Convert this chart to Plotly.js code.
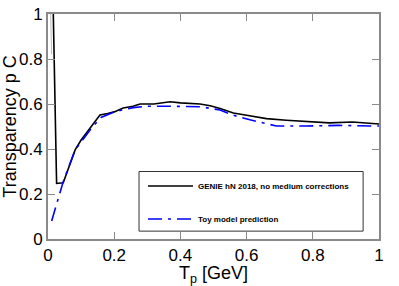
<!DOCTYPE html>
<html>
<head>
<meta charset="utf-8">
<script src="https://cdn.plot.ly/plotly-3.0.1.min.js"></script>
<style>html,body{margin:0;padding:0;background:#fff;}#chart{width:399px;height:286px;}</style>
</head>
<body>
<div id="chart"></div>
<script>
// GENIE hN 2018, no medium corrections
const genieX = [0.016, 0.026, 0.046, 0.082, 0.1, 0.13, 0.157, 0.18, 0.2, 0.227, 0.257, 0.278, 0.32, 0.369, 0.4, 0.459, 0.49, 0.52, 0.56, 0.6, 0.66, 0.72, 0.79, 0.85, 0.92, 1.0];
const genieY = [1.0, 0.247, 0.25, 0.396, 0.44, 0.5, 0.551, 0.558, 0.565, 0.582, 0.59, 0.6, 0.6, 0.61, 0.605, 0.6, 0.592, 0.58, 0.56, 0.55, 0.535, 0.528, 0.52, 0.516, 0.52, 0.511];
// Toy model prediction
const toyX = [0.011, 0.046, 0.082, 0.1, 0.13, 0.16, 0.2, 0.257, 0.3, 0.36, 0.42, 0.46, 0.52, 0.56, 0.61, 0.69, 0.78, 0.88, 0.99, 1.0];
const toyY = [0.08, 0.255, 0.396, 0.43, 0.49, 0.54, 0.565, 0.584, 0.59, 0.59, 0.59, 0.588, 0.573, 0.55, 0.53, 0.502, 0.502, 0.505, 0.502, 0.502];
// faint grey band edge near origin
const bandX = [0.008, 0.011];
const bandY = [1.0, 0.82];

const tickVals = [0, 0.2, 0.4, 0.6, 0.8, 1];
const tickText = ["0", "0.2", "0.4", "0.6", "0.8", "1"];
const legendNames = ["GENIE hN 2018, no medium corrections", "Toy model prediction"];

const traces = [
  {x: bandX, y: bandY, mode: 'lines', line: {color: '#bbbbbb', width: 1}, showlegend: false, hoverinfo: 'skip'},
  {x: genieX, y: genieY, mode: 'lines', name: legendNames[0], legendgroup: 'a', line: {color: '#000000', width: 1.6}},
  {x: toyX, y: toyY, mode: 'lines', name: legendNames[1], legendgroup: 'b', line: {color: '#0000ff', width: 1.6, dash: '14px,6px,3px,6px'}}
];

const axisCommon = {
  showgrid: false, zeroline: false, showline: true, linecolor: '#8a8a8a', linewidth: 2,
  mirror: 'ticks', ticks: 'inside', ticklen: 7, tickwidth: 1, tickcolor: '#8a8a8a',
  tickfont: {family: 'Liberation Sans, Arial, sans-serif', size: 17, color: '#000'},
  tickvals: tickVals, ticktext: tickText
};

const layout = {
  width: 399, height: 286,
  margin: {l: 48, r: 20, t: 14, b: 47},
  paper_bgcolor: '#fff', plot_bgcolor: '#fff',
  font: {family: 'Liberation Sans, Arial, sans-serif', color: '#000'},
  xaxis: Object.assign({}, axisCommon, {range: [0, 1],
    title: {text: 'T<sub>p</sub> [GeV]', font: {size: 18}, standoff: 2}}),
  yaxis: Object.assign({}, axisCommon, {range: [0, 1],
    title: {text: 'Transparency p C', font: {size: 18}, standoff: 2}}),
  showlegend: true,
  legend: {x: 0.287, y: 0.30, xanchor: 'left', yanchor: 'top', bgcolor: 'rgba(0,0,0,0)',
    borderwidth: 0, traceorder: 'grouped', tracegroupgap: 14, itemwidth: 45,
    font: {family: 'Liberation Sans, Arial, sans-serif', size: 8, weight: 'bold'}},
  shapes: [{type: 'rect', xref: 'paper', yref: 'paper', x0: 0.275, x1: 0.952, y0: 0.035, y1: 0.30,
    line: {color: '#333', width: 1}}]
};

Plotly.newPlot('chart', traces, layout, {displayModeBar: false, staticPlot: true});
</script>
</body>
</html>
